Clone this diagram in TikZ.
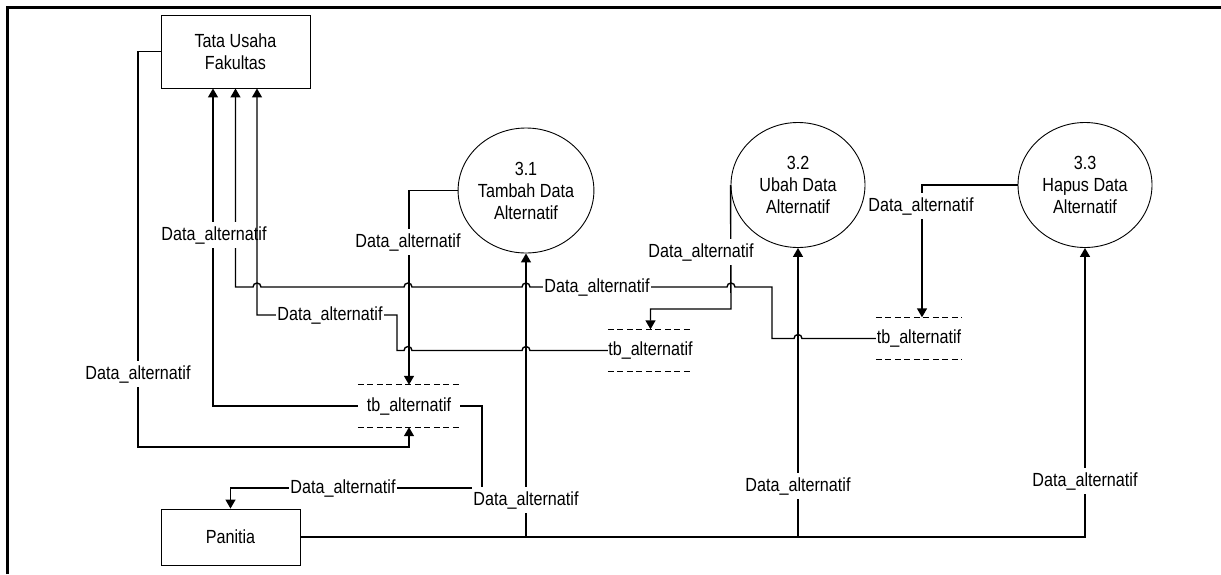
\documentclass[tikz,border=0pt]{standalone}
\usepackage{fontspec}
\setmainfont{Liberation Sans}[FakeStretch=0.85]
\usetikzlibrary{shapes.geometric,arrows.meta}

\begin{document}
\begin{tikzpicture}[x=1pt,y=-1pt,
  font=\fontsize{19}{22}\selectfont,
  entity/.style={draw,line width=0.9pt,minimum width=149pt,minimum height=73pt,align=center},
  proses/.style={draw,ellipse,line width=0.9pt,minimum width=134pt,minimum height=125pt,align=center,inner sep=0pt},
  store/.style={minimum height=42pt,inner sep=0pt},
  flow/.style={line width=1.4pt,-{Triangle[length=9pt,width=10pt]}},
  line/.style={line width=1.4pt},
  lbl/.style={fill=white,inner xsep=1pt,inner ysep=4pt}]

\useasboundingbox (0,0) rectangle (1221,574);

% Bingkai
\draw[line width=2.5pt] (7.5,574) -- (7.5,7.5) -- (1221,7.5);

% Entitas
\node[entity] (tu) at (235.5,51.5) {Tata Usaha\\Fakultas};
\node[entity,minimum width=139pt,minimum height=56pt] (pan) at (230.5,537) {Panitia};

% Proses
\node[proses] (p31) at (526,190.5) {3.1\\Tambah Data\\Alternatif};
\node[proses] (p32) at (798,185) {3.2\\Ubah Data\\Alternatif};
\node[proses] (p33) at (1085,185) {3.3\\Hapus Data\\Alternatif};

% Data store
\node[store,minimum width=102pt] (tbA) at (409,406) {tb\_alternatif};
\node[store,minimum width=85pt] (tbB) at (650.5,350.5) {tb\_alternatif};
\node[store,minimum width=86pt] (tbC) at (919,338.5) {tb\_alternatif};

\foreach \s in {tbA,tbB,tbC}
{
\draw[dash pattern=on 6pt off 3.5pt,line width=1.1pt] (\s.north west) -- (\s.north east) (\s.south west) -- (\s.south east);
}

% Tata Usaha -> tbA
\draw[flow] (tu.west) -| (138,447) -| (tbA.south);
\node[lbl] (l1) at (138,374) {Data\_alternatif};

% tbC -> Tata Usaha
\draw[flow] (tbC.west) -- (802,338.5) arc[start angle=0,end angle=-180,radius=4] -- (772,338.5) -- (772,287)
  -- (735,287) arc[start angle=0,end angle=-180,radius=4]
  -- (530,287) arc[start angle=0,end angle=-180,radius=4]
  -- (412,287) arc[start angle=0,end angle=-180,radius=4]
  -- (261,287) arc[start angle=0,end angle=-180,radius=4]
  -| (tu.south);
\node[lbl] (l2) at (597,287) {Data\_alternatif};

% tbA -> Tata Usaha
\draw[flow] (tbA.west) -| ([xshift=-22.5pt]tu.south);
\node[lbl] (l3) at (214,235) {Data\_alternatif};

% tbB -> Tata Usaha
\draw[flow] (tbB.west) -- (530,350.5) arc[start angle=0,end angle=-180,radius=4]
  -- (412,350.5) arc[start angle=0,end angle=-180,radius=4]
  -- (397,350.5) -- (397,315) -| ([xshift=21.5pt]tu.south);
\node[lbl] (l4) at (330,315) {Data\_alternatif};

% Proses -> data store
\draw[flow] (p31.west) -| (tbA.north);
\node[lbl] (l5) at (408,242) {Data\_alternatif};

\draw[flow] (p32.west) -- (731,309) -| (tbB.north);
\node[lbl] (l6) at (701,252) {Data\_alternatif};

\draw[flow] (p33.west) -| ([xshift=3pt]tbC.north);
\node[lbl] (l7) at (921,206) {Data\_alternatif};

% tbA -> Panitia
\draw[flow] (tbA.east) -- (482,406) -- (482,488) -| (pan.north);
\node[lbl] (l8) at (343,488) {Data\_alternatif};

% Panitia -> proses
\draw[flow] (pan.east) -| (p31.south);
\draw[flow] (pan.east) -| (p32.south);
\draw[flow] (pan.east) -| (p33.south);
\node[lbl] (l9) at (526,500) {Data\_alternatif};
\node[lbl] (l10) at (798,486) {Data\_alternatif};
\node[lbl] (l11) at (1085,481) {Data\_alternatif};

\end{tikzpicture}
\end{document}
